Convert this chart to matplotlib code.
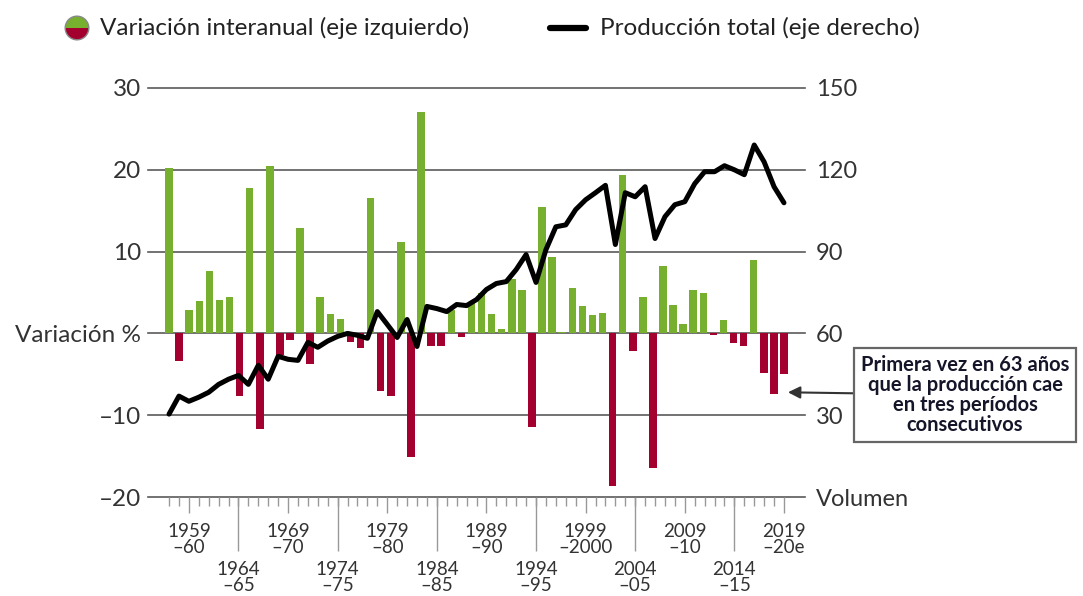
import numpy as np
import matplotlib
matplotlib.use('Agg')
import matplotlib.pyplot as plt
from matplotlib.patches import Wedge
from matplotlib.lines import Line2D

plt.rcParams['font.family'] = ['Lato', 'DejaVu Sans']

# temporadas 1957-58 ... 2019-20 (63)
seasons = np.arange(1957, 2020)
# producción total (eje derecho)
produccion = [30.4, 37.0, 35.1, 36.6, 38.4, 41.3, 43.2, 44.6, 41.3, 48.3,
              43.2, 51.6, 50.5, 50.1, 56.7, 54.9, 57.2, 58.9, 60.0, 59.3,
              58.2, 68.0, 63.3, 58.5, 65.1, 55.2, 69.9, 69.1, 68.0, 70.6,
              70.2, 72.4, 76.1, 78.3, 79.0, 83.4, 88.9, 78.7, 90.7, 99.1,
              99.8, 105.4, 109.0, 111.6, 114.3, 92.6, 111.6, 110.1, 113.8, 94.8,
              102.8, 107.2, 108.3, 114.9, 119.3, 119.3, 121.5, 120.0, 118.2, 129.1,
              122.9, 113.8, 107.9]
# variación interanual % (eje izquierdo), 62 valores
variacion = [20.2, -3.4, 2.8, 3.9, 7.6, 4.1, 4.5, -7.6, 17.8, -11.7,
             20.5, -2.6, -0.8, 12.9, -3.7, 4.5, 2.4, 1.8, -1.1, -1.8,
             16.6, -7.1, -7.6, 11.2, -15.1, 27.1, -1.5, -1.5, 2.9, -0.4,
             3.7, 5.0, 2.4, 0.5, 6.6, 5.3, -11.5, 15.4, 9.4, 0.2,
             5.6, 3.4, 2.2, 2.5, -18.7, 19.4, -2.2, 4.5, -16.5, 8.3,
             3.5, 1.1, 5.3, 5.0, -0.2, 1.6, -1.2, -1.6, 9.0, -4.9,
             -7.4, -5.0]

mid_years = [1959, 1969, 1979, 1989, 1999, 2009, 2019]
mid_labels = ['1959\n–60', '1969\n–70', '1979\n–80', '1989\n–90',
              '1999\n–2000', '2009\n–10', '2019\n–20e']
long_years = [1964, 1974, 1984, 1994, 2004, 2014]
long_labels = ['1964\n–65', '1974\n–75', '1984\n–85', '1994\n–95',
               '2004\n–05', '2014\n–15']

left_ticks = [-20, -10, 0, 10, 20, 30]
left_labels = ['–20', '–10', 'Variación %', '10', '20', '30']
right_ticks = [0, 30, 60, 90, 120, 150]
right_labels = ['Volumen', '30', '60', '90', '120', '150']

verde = '#77B02F'
rojo = '#A4002F'
gris = '#5a5a5a'
texto = '#333333'

W, H = 1083, 596
fig = plt.figure(figsize=(W / 100, H / 100), dpi=100)
ax = fig.add_axes([148 / W, (H - 497) / H, 657 / W, 409 / H])

# barras repartidas sobre el mismo tramo que la línea
bar_x = np.linspace(seasons[0], seasons[-1], len(variacion))
colores = [verde if v >= 0 else rojo for v in variacion]
ax.bar(bar_x, variacion, width=0.76, color=colores, zorder=2)

for t in left_ticks:
    ax.axhline(t, color=gris, lw=1.2, zorder=1, clip_on=False)

ax.set_ylim(-20, 30)
ax.set_xlim(1954.88, 2021.12)
for s in ax.spines.values():
    s.set_visible(False)

ax.set_yticks(left_ticks, labels=left_labels)
ax.tick_params(axis='y', length=0, pad=5, labelsize=17.5, labelcolor=texto)

ax.set_xticks(seasons, minor=True)
ax.set_xticks(mid_years, labels=mid_labels)
ax.tick_params(axis='x', which='minor', length=6.5, width=1, color='#999999')
ax.tick_params(axis='x', which='major', length=11.5, width=1, color='#999999',
               pad=7, labelsize=13.5, labelcolor=texto)
for lab in ax.get_xticklabels():
    lab.set_linespacing(0.95)

sec = ax.secondary_xaxis('bottom')
sec.set_xticks(long_years, labels=long_labels)
sec.tick_params(axis='x', length=39, width=1, color='#999999', pad=7,
                labelsize=13.5, labelcolor=texto)
sec.spines['bottom'].set_visible(False)
for lab in sec.get_xticklabels():
    lab.set_linespacing(0.95)

ax2 = ax.twinx()
ax2.plot(seasons, produccion, color='black', lw=3.6, solid_joinstyle='round',
         solid_capstyle='round', zorder=3)
ax2.set_ylim(0, 150)
for s in ax2.spines.values():
    s.set_visible(False)
ax2.set_yticks(right_ticks, labels=right_labels)
ax2.tick_params(axis='y', length=0, pad=8, labelsize=17, labelcolor=texto)

# nota
ax.annotate('Primera vez en 63 años\nque la producción cae\nen tres períodos\nconsecutivos',
            xy=(2019.4, -7.2), xycoords='data',
            xytext=(965 / W, 1 - 395 / H), textcoords='figure fraction',
            ha='center', va='center', fontsize=14.5, fontweight='bold',
            color='#15152a', linespacing=1.0,
            bbox=dict(boxstyle='square,pad=0.35', fc='white', ec='#666666', lw=1.6),
            arrowprops=dict(arrowstyle='-|>,head_length=0.5,head_width=0.25',
                            color='#333333', lw=1.5, shrinkA=0, shrinkB=0),
            annotation_clip=False)

# leyenda
lax = fig.add_axes([64 / W, (H - 41) / H, 26 / W, 26 / H])
lax.add_patch(Wedge((0, 0), 1, 0, 180, fc=verde, ec='none'))
lax.add_patch(Wedge((0, 0), 1, 180, 360, fc=rojo, ec='none'))
lax.add_patch(plt.Circle((0, 0), 1, fc='none', ec='#888888', lw=1))
lax.set_xlim(-1.1, 1.1)
lax.set_ylim(-1.1, 1.1)
lax.axis('off')
fig.text(100 / W, 1 - 28 / H, 'Variación interanual (eje izquierdo)',
         va='center', ha='left', fontsize=17.5, color='#222222')
fig.add_artist(Line2D([550 / W, 586 / W], [1 - 28 / H, 1 - 28 / H],
                      color='black', lw=4.5, solid_capstyle='round'))
fig.text(600 / W, 1 - 28 / H, 'Producción total (eje derecho)',
         va='center', ha='left', fontsize=17.5, color='#222222')

fig.savefig('out.png', dpi=100)
